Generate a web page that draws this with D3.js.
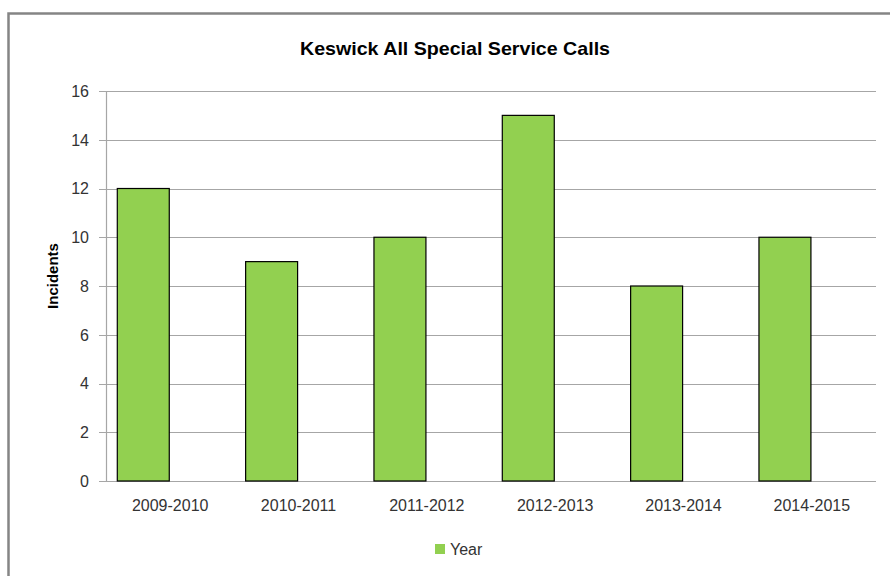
<!doctype html>
<html>
<head>
<meta charset="utf-8">
<script src="https://d3js.org/d3.v7.min.js"></script>
<style>
  body { margin: 0; background: #fff; }
  text { font-family: "Liberation Sans", Arial, sans-serif; }
</style>
</head>
<body>
<svg id="chart" width="890" height="576"></svg>
<script>
var years = ["2009-2010", "2010-2011", "2011-2012", "2012-2013", "2013-2014", "2014-2015"];
var incidents = [12, 9, 10, 15, 8, 10];
var yTicks = [0, 2, 4, 6, 8, 10, 12, 14, 16];
var seriesName = "Year";

var margin = { top: 91, right: 14, bottom: 95, left: 106 },
    width = 876 - margin.left,
    height = 481 - margin.top;

var svg = d3.select("#chart");

// outer frame
svg.append("rect")
    .attr("x", 8.5).attr("y", 13.5)
    .attr("width", 900).attr("height", 600)
    .style("fill", "none")
    .style("stroke", "#858585")
    .style("stroke-width", 2.5);

svg.append("text")
    .attr("x", 455).attr("y", 55)
    .style("text-anchor", "middle")
    .style("font-weight", "bold")
    .style("font-size", "18.5px")
    .style("fill", "#000")
    .attr("textLength", 310)
    .attr("lengthAdjust", "spacingAndGlyphs")
    .text("Keswick All Special Service Calls");

var g = svg.append("g")
    .attr("transform", "translate(" + margin.left + "," + margin.top + ")");

var x = d3.scaleBand().domain(years).range([0, width]);
var y = d3.scaleLinear().domain([0, 16]).range([height, 0]);

// gridlines
g.selectAll(".grid")
    .data(yTicks)
    .enter().append("line")
    .attr("x1", -7).attr("x2", width)
    .attr("y1", function (d) { return Math.round(y(d)) + 0.5; })
    .attr("y2", function (d) { return Math.round(y(d)) + 0.5; })
    .style("stroke", "#a6a6a6")
    .style("stroke-width", 1.2);

g.append("line")
    .attr("x1", 0.5).attr("x2", 0.5)
    .attr("y1", 0).attr("y2", height)
    .style("stroke", "#a6a6a6")
    .style("stroke-width", 1.2);

g.selectAll(".ylab")
    .data(yTicks)
    .enter().append("text")
    .attr("x", -17)
    .attr("y", function (d) { return y(d); })
    .attr("dy", "0.36em")
    .style("text-anchor", "end")
    .style("font-size", "16px")
    .style("fill", "#333")
    .text(function (d) { return d; });

// bars sit in the left half of each band
var bw = x.bandwidth();
g.selectAll(".bar")
    .data(incidents)
    .enter().append("rect")
    .attr("class", "bar")
    .attr("x", function (d, i) { return x(years[i]) + bw * 0.088; })
    .attr("y", function (d) { return y(d); })
    .attr("width", bw * 0.405)
    .attr("height", function (d) { return height - y(d); })
    .style("fill", "#92d050")
    .style("stroke", "#000")
    .style("stroke-width", 1.2);

g.selectAll(".xlab")
    .data(years)
    .enter().append("text")
    .attr("x", function (d) { return x(d) + bw / 2; })
    .attr("y", height + 30)
    .style("text-anchor", "middle")
    .style("font-size", "16px")
    .style("fill", "#333")
    .text(function (d) { return d; });

svg.append("text")
    .attr("transform", "translate(58,276) rotate(-90)")
    .style("text-anchor", "middle")
    .style("font-weight", "bold")
    .style("font-size", "15px")
    .style("fill", "#000")
    .text("Incidents");

// legend
svg.append("rect")
    .attr("x", 435).attr("y", 544)
    .attr("width", 10).attr("height", 10)
    .style("fill", "#92d050");
svg.append("text")
    .attr("x", 450).attr("y", 555)
    .style("font-size", "16px")
    .style("fill", "#333")
    .text(seriesName);
</script>
</body>
</html>
